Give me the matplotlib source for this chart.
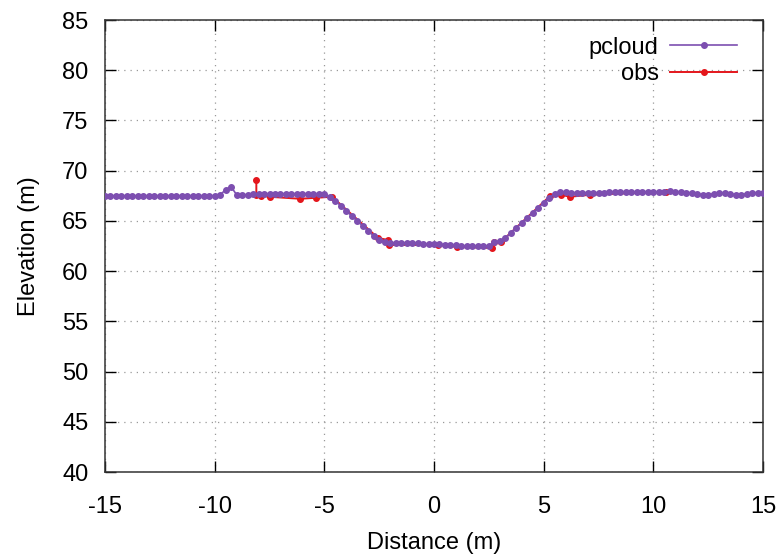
import matplotlib
matplotlib.use("Agg")
import matplotlib.pyplot as plt

plt.rcParams['font.family'] = ['Liberation Sans', 'DejaVu Sans']
plt.rcParams['axes.unicode_minus'] = False

# point cloud profile
pc_x = [-15.0, -14.75, -14.5, -14.25, -14.0, -13.75, -13.5, -13.25, -13.0, -12.75,
        -12.5, -12.25, -12.0, -11.75, -11.5, -11.25, -11.0, -10.75, -10.5, -10.25,
        -10.0, -9.75, -9.5, -9.25, -9.0, -8.75, -8.5, -8.25, -8.0, -7.75,
        -7.5, -7.25, -7.0, -6.75, -6.5, -6.25, -6.0, -5.75, -5.5, -5.25,
        -5.0, -4.75, -4.5, -4.25, -4.0, -3.75, -3.5, -3.25, -3.0, -2.75,
        -2.5, -2.25, -2.0, -1.75, -1.5, -1.25, -1.0, -0.75, -0.5, -0.25,
        0.0, 0.25, 0.5, 0.75, 1.0, 1.25, 1.5, 1.75, 2.0, 2.25,
        2.5, 2.75, 3.0, 3.25, 3.5, 3.75, 4.0, 4.25, 4.5, 4.75,
        5.0, 5.25, 5.5, 5.75, 6.0, 6.25, 6.5, 6.75, 7.0, 7.25,
        7.5, 7.75, 8.0, 8.25, 8.5, 8.75, 9.0, 9.25, 9.5, 9.75,
        10.0, 10.25, 10.5, 10.75, 11.0, 11.25, 11.5, 11.75, 12.0, 12.25,
        12.5, 12.75, 13.0, 13.25, 13.5, 13.75, 14.0, 14.25, 14.5, 14.75,
        15.0]
pc_y = [67.5, 67.5, 67.5, 67.5, 67.5, 67.5, 67.5, 67.5, 67.5, 67.5,
        67.5, 67.5, 67.5, 67.5, 67.5, 67.5, 67.5, 67.5, 67.5, 67.5,
        67.5, 67.6, 68.1, 68.4, 67.6, 67.6, 67.6, 67.7, 67.7, 67.7,
        67.7, 67.7, 67.7, 67.7, 67.7, 67.7, 67.7, 67.7, 67.7, 67.7,
        67.7, 67.4, 67.0, 66.5, 66.0, 65.5, 65.0, 64.5, 64.0, 63.5,
        63.1, 62.9, 62.8, 62.8, 62.8, 62.8, 62.8, 62.8, 62.7, 62.7,
        62.7, 62.7, 62.6, 62.6, 62.6, 62.5, 62.5, 62.5, 62.5, 62.5,
        62.5, 62.9, 63.0, 63.3, 63.8, 64.3, 64.8, 65.3, 65.8, 66.3,
        66.8, 67.3, 67.7, 67.9, 67.9, 67.8, 67.8, 67.8, 67.8, 67.8,
        67.8, 67.8, 67.9, 67.9, 67.9, 67.9, 67.9, 67.9, 67.9, 67.9,
        67.9, 67.9, 67.9, 68.0, 67.9, 67.9, 67.8, 67.8, 67.7, 67.6,
        67.6, 67.7, 67.8, 67.8, 67.7, 67.6, 67.6, 67.7, 67.8, 67.8,
        67.8]

# surveyed points
obs_x = [-8.1, -8.1, -7.9, -7.5, -6.1, -5.4, -4.65, -2.55, -2.1, -2.05,
         0.2, 1.05, 2.65, 2.75, 3.05, 5.3, 5.8, 6.2, 7.1, 10.6]
obs_y = [69.1, 67.6, 67.5, 67.4, 67.2, 67.3, 67.4, 63.3, 63.1, 62.6,
         62.6, 62.4, 62.3, 62.9, 62.9, 67.5, 67.6, 67.4, 67.6, 67.9]

xticks = [-15, -10, -5, 0, 5, 10, 15]
yticks = [40, 45, 50, 55, 60, 65, 70, 75, 80, 85]

fig = plt.figure(figsize=(7.83, 5.55), dpi=100)
# axes box in pixels: left 105, right 763, top 20, bottom 472
ax = fig.add_axes([105/783, (555-472)/555, 658/783, 452/555])

ax.plot(pc_x, pc_y, color='#7d4fb0', lw=1.2, marker='o', ms=4,
        label='pcloud', zorder=3)
ax.plot(obs_x, obs_y, color='#e4161c', lw=1.4, marker='o', ms=4,
        label='obs', zorder=2)

ax.set_xlim(-15, 15)
ax.set_ylim(40, 85)
ax.set_xticks(xticks)
ax.set_yticks(yticks)
ax.tick_params(axis='both', direction='in', top=True, right=True,
               length=8, width=1, labelsize=17)
ax.tick_params(axis='x', pad=17)
ax.tick_params(axis='y', pad=12)
ax.grid(True, color='#999999', ls=(0, (1, 4)), lw=0.9)
for s in ax.spines.values():
    s.set_linewidth(1.1)
    s.set_color('#333333')

ax.set_xlabel('Distance (m)', fontsize=17, labelpad=10)
ax.set_ylabel('Elevation (m)', fontsize=17, labelpad=16)

ax.legend(loc='upper right', frameon=False, markerfirst=False, fontsize=17,
          handlelength=2.8, handletextpad=0.5, labelspacing=0.2,
          borderaxespad=0.3, bbox_to_anchor=(0.985, 1.0))

plt.savefig("out.png")
plt.close()
